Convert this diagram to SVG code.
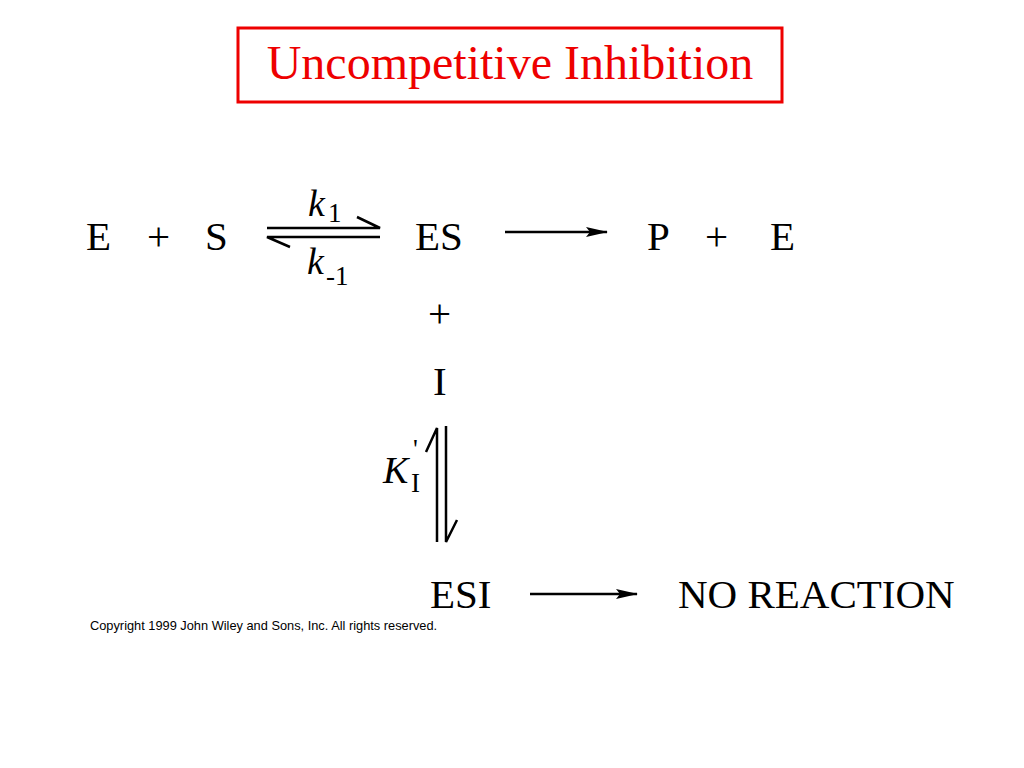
<svg xmlns="http://www.w3.org/2000/svg" width="1024" height="768" viewBox="0 0 1024 768">
<defs><marker id="ah" markerWidth="22" markerHeight="10" refX="21" refY="5" orient="auto" markerUnits="userSpaceOnUse"><path d="M0,0 L22,5 L0,10 L4,5 Z" fill="#000"/></marker></defs>
<style>
.t{font-family:"Liberation Serif",serif;font-size:41px;fill:#000}
.k{font-family:"Liberation Serif",serif;font-style:italic;font-size:38px;fill:#000}
.s{font-family:"Liberation Serif",serif;font-size:27px;fill:#000}
.l{stroke:#000;stroke-width:2.5;fill:none}
</style>
<rect width="1024" height="768" fill="#fff"/>
<g id="title"><rect x="238" y="28" width="544" height="74" fill="none" stroke="#e00" stroke-width="3"/>
<text x="510" y="79" text-anchor="middle" font-family="Liberation Serif,serif" font-size="48" fill="#e00">Uncompetitive Inhibition</text></g>
<g id="E_S"><text class="t" x="86" y="250">E</text><text class="t" x="147" y="250">+</text><text class="t" x="205" y="250">S</text></g>
<g id="ES"><text class="t" x="415" y="250">ES</text></g>
<g id="P_E"><text class="t" x="647" y="250">P</text><text class="t" x="705" y="250">+</text><text class="t" x="770" y="250">E</text></g>
<g id="plus"><text class="t" x="428" y="327">+</text></g>
<g id="I"><text class="t" x="433" y="395">I</text></g>
<g id="ESI"><text class="t" x="430" y="608">ESI</text></g>
<g id="NR"><text class="t" x="678" y="608">NO REACTION</text></g>
<g id="labels">
<text class="k" x="308" y="216">k</text><text class="s" x="328" y="222">1</text>
<text class="k" x="307" y="274">k</text><text class="s" x="326" y="285">-1</text>
<text class="k" x="383" y="483">K</text><text class="s" x="413" y="458">'</text><text class="s" x="411" y="492">I</text>
</g>
<g id="connectors">
<path class="l" d="M267,228 H380 L357,217"/>
<path class="l" d="M380,237 H267 L290,247"/>
<line class="l" x1="505" y1="232" x2="607" y2="232" marker-end="url(#ah)"/>
<path class="l" d="M437,542 V428 L426,452"/>
<path class="l" d="M446,426 V542 L457,520"/>
<line class="l" x1="530" y1="594" x2="637" y2="594" marker-end="url(#ah)"/>
</g>
<text x="90" y="630" font-family="Liberation Sans,sans-serif" font-size="12.8" fill="#000">Copyright 1999 John Wiley and Sons, Inc. All rights reserved.</text>
</svg>
